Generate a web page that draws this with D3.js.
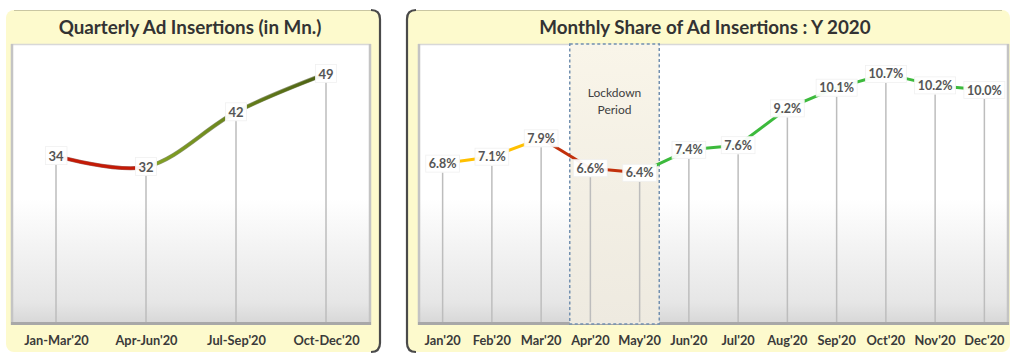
<!DOCTYPE html>
<html><head><meta charset="utf-8">
<script src="https://cdn.jsdelivr.net/npm/d3@7/dist/d3.min.js"></script>
<style>
html,body{margin:0;padding:0;background:#fff;}
svg{display:block;font-family:Lato,"Open Sans",sans-serif;}
</style></head>
<body>
<svg id="c" width="1024" height="359"></svg>
<script>
// ---- data ----
const quarterCats = ["Jan-Mar'20","Apr-Jun'20","Jul-Sep'20","Oct-Dec'20"];
const quarterVals = [34, 32, 42, 49];
const monthCats = ["Jan'20","Feb'20","Mar'20","Apr'20","May'20","Jun'20","Jul'20","Aug'20","Sep'20","Oct'20","Nov'20","Dec'20"];
const monthVals = [6.8, 7.1, 7.9, 6.6, 6.4, 7.4, 7.6, 9.2, 10.1, 10.7, 10.2, 10.0];
const lockdownMonths = ["Apr'20","May'20"];
const titles = ["Quarterly Ad Insertions (in Mn.)", "Monthly Share of Ad Insertions : Y 2020"];

const svg = d3.select("#c");
const defs = svg.append("defs");

const pg = defs.append("linearGradient").attr("id","plotGrad").attr("x1",0).attr("y1",0).attr("x2",0).attr("y2",1);
pg.append("stop").attr("offset","0%").attr("stop-color","#ffffff");
pg.append("stop").attr("offset","55%").attr("stop-color","#ffffff");
pg.append("stop").attr("offset","92%").attr("stop-color","#e6e6e6");
pg.append("stop").attr("offset","100%").attr("stop-color","#d6d6d6");
const lg = defs.append("linearGradient").attr("id","lockGrad").attr("x1",0).attr("y1",0).attr("x2",0).attr("y2",1);
lg.append("stop").attr("offset","0%").attr("stop-color","#f9f5e9");
lg.append("stop").attr("offset","100%").attr("stop-color","#eeeae0");

function panel(x0, x1, y0, y1, px0, px1, py0, py1, borderSide, title, titleX) {
  const g = svg.append("g");
  g.append("rect").attr("x",x0).attr("y",y0).attr("width",x1-x0).attr("height",y1-y0)
    .attr("rx",8).attr("fill","#fdfacd");
  g.append("line").attr("x1",x0+8).attr("x2",x1-8).attr("y1",y0+0.5).attr("y2",y0+0.5)
    .attr("stroke","#c9c6a2").attr("stroke-width",1);
  const r = 9;
  let p;
  if (borderSide === "right") {
    p = `M${x1-r},${y0} Q${x1},${y0} ${x1},${y0+r} L${x1},${y1-r} Q${x1},${y1} ${x1-r},${y1}`;
  } else {
    p = `M${x0+r},${y0} Q${x0},${y0} ${x0},${y0+r} L${x0},${y1-r} Q${x0},${y1} ${x0+r},${y1}`;
  }
  g.append("path").attr("d",p).attr("fill","none").attr("stroke","#4a4a4a").attr("stroke-width",2.2);
  g.append("rect").attr("x",px0).attr("y",py0).attr("width",px1-px0).attr("height",py1-py0)
    .attr("fill","url(#plotGrad)");
  g.append("line").attr("x1",px0).attr("x2",px1).attr("y1",py0+0.5).attr("y2",py0+0.5).attr("stroke","#d8d8d8").attr("stroke-width",1.5);
  g.append("line").attr("x1",px0+1).attr("x2",px0+1).attr("y1",py0).attr("y2",py1).attr("stroke","#c4c4c4").attr("stroke-width",2.5);
  g.append("line").attr("x1",px1-1).attr("x2",px1-1).attr("y1",py0).attr("y2",py1).attr("stroke","#c4c4c4").attr("stroke-width",2.5);
  g.append("line").attr("x1",px0).attr("x2",px1).attr("y1",py1-1.5).attr("y2",py1-1.5).attr("stroke","#a8a8a8").attr("stroke-width",3);
  g.append("text").attr("x",titleX).attr("y",y0+24).attr("text-anchor","middle")
    .attr("font-size",18.8).attr("font-weight",700).attr("fill","#333").text(title);
  return g;
}

function labelBox(g, x, y, txt, size) {
  const t = g.append("text").attr("x",x).attr("y",y).attr("text-anchor","middle").attr("dy","0.36em")
    .attr("font-size",size).attr("font-weight",700).attr("fill","#555").text(txt);
  const bb = t.node().getBBox();
  g.insert("rect", () => t.node()).attr("x",bb.x-3).attr("y",bb.y-1).attr("width",bb.width+6).attr("height",bb.height+2)
    .attr("fill","#fff").attr("fill-opacity",0.95).attr("stroke","#f0f0f0").attr("stroke-width",0.8);
}

// ---------------- LEFT PANEL ----------------
{
  const px0=11, px1=371, py0=44, py1=325;
  const g = panel(6, 380, 10, 352, px0, px1, py0, py1, "right", titles[0], 190);
  const x = d3.scalePoint().domain(quarterCats).range([px0, px1]).padding(0.5);
  const y = d3.scaleLinear().domain([0, 55]).range([342, 41]);
  g.selectAll(".drop").data(quarterCats).join("line")
    .attr("x1",d=>x(d)).attr("x2",d=>x(d))
    .attr("y1",(d,i)=>y(quarterVals[i])+8).attr("y2",py1-3)
    .attr("stroke","#bdbdbd").attr("stroke-width",1.5);
  const ax = d3.axisBottom(x).tickSize(0).tickPadding(0);
  const axg = g.append("g").attr("transform",`translate(0,${py1+11})`).call(ax);
  axg.select(".domain").remove();
  axg.selectAll("text").attr("font-size",12.8).attr("font-weight",700).attr("fill","#3a3a3a").attr("font-family","Lato,sans-serif");
  const pts = quarterCats.map((c,i)=>[x(c), y(quarterVals[i])]);
  const line = d3.line().curve(d3.curveCatmullRom.alpha(0.5));
  const gg = defs.append("linearGradient").attr("id","greenGrad").attr("gradientUnits","userSpaceOnUse")
    .attr("x1",pts[1][0]).attr("x2",pts[3][0]).attr("y1",0).attr("y2",0);
  gg.append("stop").attr("offset","0%").attr("stop-color","#86a624");
  gg.append("stop").attr("offset","100%").attr("stop-color","#4a5e12");
  for (let i=0;i<pts.length-1;i++){
    const id="qclip"+i;
    defs.append("clipPath").attr("id",id).append("rect")
      .attr("x",pts[i][0]).attr("width",pts[i+1][0]-pts[i][0]).attr("y",0).attr("height",359);
    const down = quarterVals[i+1] < quarterVals[i];
    g.append("path").attr("d",line(pts)).attr("clip-path",`url(#${id})`).attr("fill","none")
      .attr("stroke", down ? "#6e0d05" : "#3f4d10").attr("stroke-width",4.2).attr("stroke-linecap","round").attr("opacity",0.6);
    g.append("path").attr("d",line(pts)).attr("clip-path",`url(#${id})`).attr("fill","none")
      .attr("stroke", down ? "#c41a06" : "url(#greenGrad)").attr("stroke-width",3).attr("stroke-linecap","round");
  }
  quarterVals.forEach((v,i)=>labelBox(g, x(quarterCats[i]), y(v), String(v), 13));
}

// ---------------- RIGHT PANEL ----------------
{
  const px0=418, px1=1009, py0=44, py1=325;
  const g = panel(407, 1010, 10, 352, px0, px1, py0, py1, "left", titles[1], 705);
  const xb = d3.scaleBand().domain(monthCats).range([px0, px1]);
  const x = d => xb(d) + xb.bandwidth()/2;
  const y = d3.scaleLinear().domain([0, 12]).range([320, 44]);
  const lx0 = xb(lockdownMonths[0]) + 4, lx1 = xb(lockdownMonths[1]) + xb.bandwidth() - 5;
  g.append("rect").attr("x",lx0).attr("y",py0).attr("width",lx1-lx0).attr("height",py1-py0-1)
    .attr("fill","url(#lockGrad)").attr("stroke","#7290b0").attr("stroke-width",1.5).attr("stroke-dasharray","3,2.5");
  g.append("text").attr("x",(lx0+lx1)/2).attr("y",93).attr("text-anchor","middle").attr("dy","0.35em")
    .attr("font-size",12).attr("fill","#404040").text("Lockdown");
  g.append("text").attr("x",(lx0+lx1)/2).attr("y",110).attr("text-anchor","middle").attr("dy","0.35em")
    .attr("font-size",12).attr("fill","#404040").text("Period");
  g.selectAll(".drop").data(monthCats).join("line")
    .attr("x1",d=>x(d)).attr("x2",d=>x(d))
    .attr("y1",(d,i)=>y(monthVals[i])+9).attr("y2",py1-3)
    .attr("stroke","#bdbdbd").attr("stroke-width",1.5);
  const ax = d3.axisBottom(xb).tickSize(0).tickPadding(0);
  const axg = g.append("g").attr("transform",`translate(0,${py1+11})`).call(ax);
  axg.select(".domain").remove();
  axg.selectAll("text").attr("font-size",12.8).attr("font-weight",700).attr("fill","#3a3a3a").attr("font-family","Lato,sans-serif");
  const segColor = i => i < 2 ? "#ffc000" : (i < 4 ? "#c2300b" : "#3cba3c");
  for (let i=0;i<monthVals.length-1;i++){
    g.append("line").attr("x1",x(monthCats[i])).attr("y1",y(monthVals[i]))
      .attr("x2",x(monthCats[i+1])).attr("y2",y(monthVals[i+1]))
      .attr("stroke",segColor(i)).attr("stroke-width",3);
  }
  monthVals.forEach((v,i)=>labelBox(g, x(monthCats[i]), y(v), v.toFixed(1)+"%", 12.5));
}
</script>
</body></html>
